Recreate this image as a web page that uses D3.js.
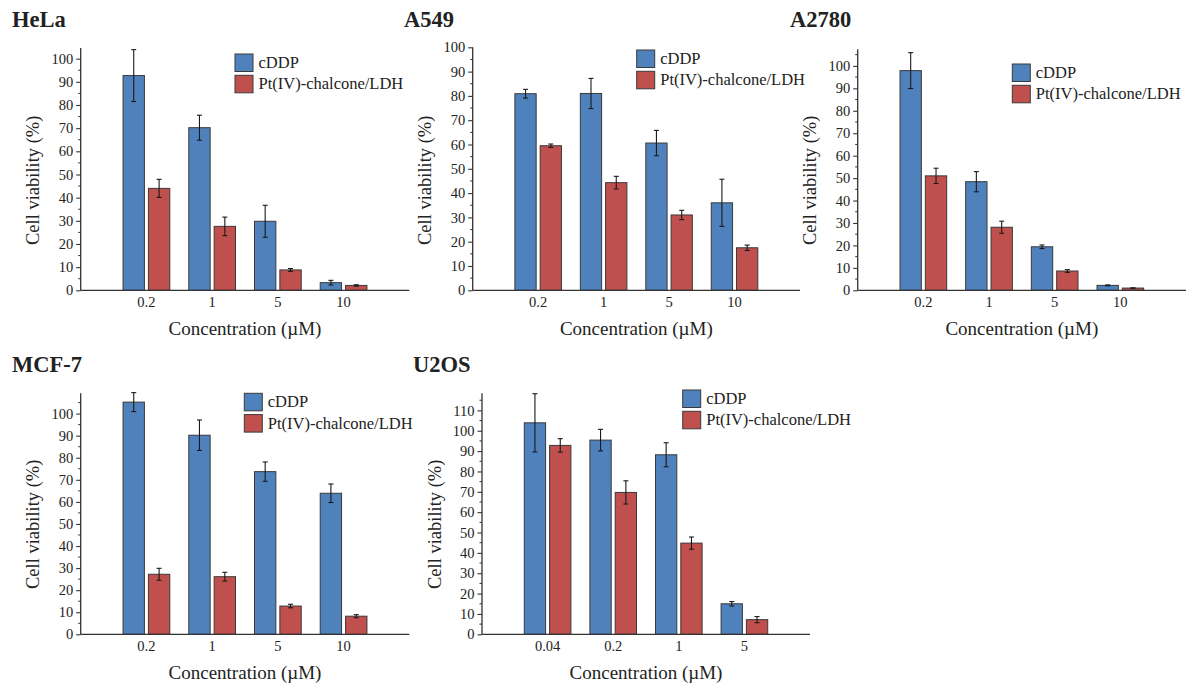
<!DOCTYPE html>
<html>
<head>
<meta charset="utf-8">
<script src="https://cdn.jsdelivr.net/npm/d3@7"></script>
<style>
  body { margin: 0; background: #fff; }
  svg text { font-family: "Liberation Serif", "Times New Roman", serif; fill: #222; }
</style>
</head>
<body>
<div id="chart"></div>
<script>
// --------------------------------------
//  Data
// --------------------------------------

const series = ["cDDP", "Pt(IV)-chalcone/LDH"];
const conc = ["0.2", "1", "5", "10"];
const concU2OS = ["0.04", "0.2", "1", "5"];

const hela_cddp = [92.7, 70.2, 29.8, 3.3];
const hela_cddp_err = [11.2, 5.4, 6.9, 1.0];
const hela_pt = [44.0, 27.6, 8.8, 2.1];
const hela_pt_err = [3.9, 4.0, 0.6, 0.3];

const a549_cddp = [80.9, 81.0, 60.6, 36.0];
const a549_cddp_err = [1.8, 6.2, 5.2, 9.7];
const a549_pt = [59.5, 44.3, 31.0, 17.5];
const a549_pt_err = [0.7, 2.6, 1.9, 1.1];

const a2780_cddp = [97.9, 48.4, 19.4, 2.2];
const a2780_cddp_err = [8.0, 4.5, 0.8, 0.2];
const a2780_pt = [51.0, 28.1, 8.6, 1.0];
const a2780_pt_err = [3.4, 2.7, 0.6, 0.1];

const mcf7_cddp = [105.2, 90.2, 73.7, 63.9];
const mcf7_cddp_err = [4.3, 6.9, 4.4, 4.2];
const mcf7_pt = [27.2, 26.1, 12.8, 8.2];
const mcf7_pt_err = [2.7, 2.0, 0.8, 0.7];

const u2os_cddp = [103.9, 95.4, 88.2, 15.0];
const u2os_cddp_err = [14.3, 5.3, 5.9, 1.1];
const u2os_pt = [92.8, 69.7, 44.8, 7.2];
const u2os_pt_err = [3.3, 5.7, 3.0, 1.5];

const colors = ["#4f81bd", "#c0504d"];

// --------------------------------------
//  Layout of the five panels (pixels)
// --------------------------------------

const panels = [
  { title: "HeLa", tx: 12, ty: 27, cats: conc, vals: [hela_cddp, hela_pt], errs: [hela_cddp_err, hela_pt_err],
    left: 80.7, right: 409.3, zero: 290.3, top: 48, yMax: 104.6, yTicks: 100, lx: 235, ly: 54 },
  { title: "A549", tx: 404, ty: 27, cats: conc, vals: [a549_cddp, a549_pt], errs: [a549_cddp_err, a549_pt_err],
    left: 472.7, right: 800, zero: 290.3, top: 47.3, yMax: 100, yTicks: 100, lx: 636.7, ly: 50 },
  { title: "A2780", tx: 790, ty: 27, cats: conc, vals: [a2780_cddp, a2780_pt], errs: [a2780_cddp_err, a2780_pt_err],
    left: 857.7, right: 1186, zero: 290.3, top: 49.3, yMax: 107.4, yTicks: 100, lx: 1012.3, ly: 64 },
  { title: "MCF-7", tx: 12, ty: 372.3, cats: conc, vals: [mcf7_cddp, mcf7_pt], errs: [mcf7_cddp_err, mcf7_pt_err],
    left: 80.7, right: 409.3, zero: 634.3, top: 393.3, yMax: 109.2, yTicks: 100, lx: 244.3, ly: 393.3 },
  { title: "U2OS", tx: 413, ty: 372.3, cats: concU2OS, vals: [u2os_cddp, u2os_pt], errs: [u2os_cddp_err, u2os_pt_err],
    left: 482, right: 810, zero: 634.3, top: 393.3, yMax: 118.4, yTicks: 110, lx: 682.7, ly: 390 }
];

const width = 1193, height = 688;

const svg = d3.select("#chart")
  .append("svg")
  .attr("width", width)
  .attr("height", height);

panels.forEach(p => {
  const g = svg.append("g");

  const x = d3.scaleLinear().domain([0, p.cats.length + 1]).range([p.left, p.right]);
  const y = d3.scaleLinear().domain([0, p.yMax]).range([p.zero, p.top]);
  const unit = x(1) - x(0);
  const barW = 0.325 * unit;
  const offs = [-0.193 * unit, 0.193 * unit];

  // bars + error bars
  p.vals.forEach((vals, s) => {
    const rows = vals.map((v, i) => ({ v, e: p.errs[s][i], cx: x(i + 1) + offs[s] }));

    g.selectAll(null)
      .data(rows)
      .join("rect")
        .attr("x", d => d.cx - barW / 2)
        .attr("y", d => y(d.v))
        .attr("width", barW)
        .attr("height", d => y(0) - y(d.v))
        .attr("fill", colors[s])
        .attr("stroke", "#3a3a3a")
        .attr("stroke-width", 1);

    const eb = g.selectAll(null)
      .data(rows)
      .join("g")
        .attr("stroke", "#1a1a1a")
        .attr("stroke-width", 1.1);
    eb.append("line")
      .attr("x1", d => d.cx).attr("x2", d => d.cx)
      .attr("y1", d => y(d.v + d.e)).attr("y2", d => y(d.v - d.e));
    eb.append("line")
      .attr("x1", d => d.cx - 2.5).attr("x2", d => d.cx + 2.5)
      .attr("y1", d => y(d.v + d.e)).attr("y2", d => y(d.v + d.e));
    eb.append("line")
      .attr("x1", d => d.cx - 2.5).attr("x2", d => d.cx + 2.5)
      .attr("y1", d => y(d.v - d.e)).attr("y2", d => y(d.v - d.e));
  });

  // y axis: major ticks every 10, minor every 5
  const yAxis = g.append("g")
    .attr("transform", `translate(${p.left},0)`)
    .call(d3.axisLeft(y).tickValues(d3.range(0, p.yTicks + 1, 10)).tickSize(4.5).tickPadding(3).tickSizeOuter(0));
  yAxis.select(".domain").remove();
  yAxis.selectAll("line").attr("stroke", "#333").attr("stroke-width", 1.1);
  yAxis.selectAll("text")
    .attr("font-size", 14.5)
    .attr("fill", "#222");
  g.append("g")
    .attr("transform", `translate(${p.left},0)`)
    .selectAll("line")
    .data(d3.range(5, p.yMax, 10))
    .join("line")
      .attr("x1", -2.5).attr("x2", 0)
      .attr("y1", d => y(d)).attr("y2", d => y(d))
      .attr("stroke", "#333").attr("stroke-width", 1);

  // axis lines
  g.append("line")
    .attr("x1", p.left).attr("x2", p.left)
    .attr("y1", y(p.yMax)).attr("y2", y(0))
    .attr("stroke", "#333").attr("stroke-width", 1.3);
  g.append("line")
    .attr("x1", p.left).attr("x2", p.right)
    .attr("y1", y(0)).attr("y2", y(0))
    .attr("stroke", "#333").attr("stroke-width", 1.3);

  // x tick labels (no tick marks)
  g.selectAll(null)
    .data(p.cats)
    .join("text")
      .attr("x", (d, i) => x(i + 1))
      .attr("y", y(0) + 17)
      .attr("text-anchor", "middle")
      .attr("font-size", 14.5)
      .text(d => d);

  // axis titles
  g.append("text")
    .attr("x", (p.left + p.right) / 2)
    .attr("y", y(0) + 45)
    .attr("text-anchor", "middle")
    .attr("font-size", 19)
    .text("Concentration (\u00b5M)");
  g.append("text")
    .attr("transform", `translate(${p.left - 47.5},${y(0) - 110}) rotate(-90)`)
    .attr("text-anchor", "middle")
    .attr("dominant-baseline", "central")
    .attr("font-size", 18.5)
    .text("Cell viability (%)");

  // panel title
  g.append("text")
    .attr("x", p.tx)
    .attr("y", p.ty)
    .attr("font-size", 22.5)
    .attr("font-weight", "bold")
    .attr("fill", "#111")
    .text(p.title);

  // legend
  const lg = g.append("g").attr("transform", `translate(${p.lx},${p.ly})`);
  series.forEach((name, s) => {
    lg.append("rect")
      .attr("x", 0).attr("y", s * 21.3)
      .attr("width", 18).attr("height", 17.5)
      .attr("fill", colors[s])
      .attr("stroke", "#3a3a3a").attr("stroke-width", 1);
    lg.append("text")
      .attr("x", 23.5).attr("y", s * 21.3 + 14)
      .attr("font-size", 16.5)
      .text(name);
  });
});
</script>
</body>
</html>
